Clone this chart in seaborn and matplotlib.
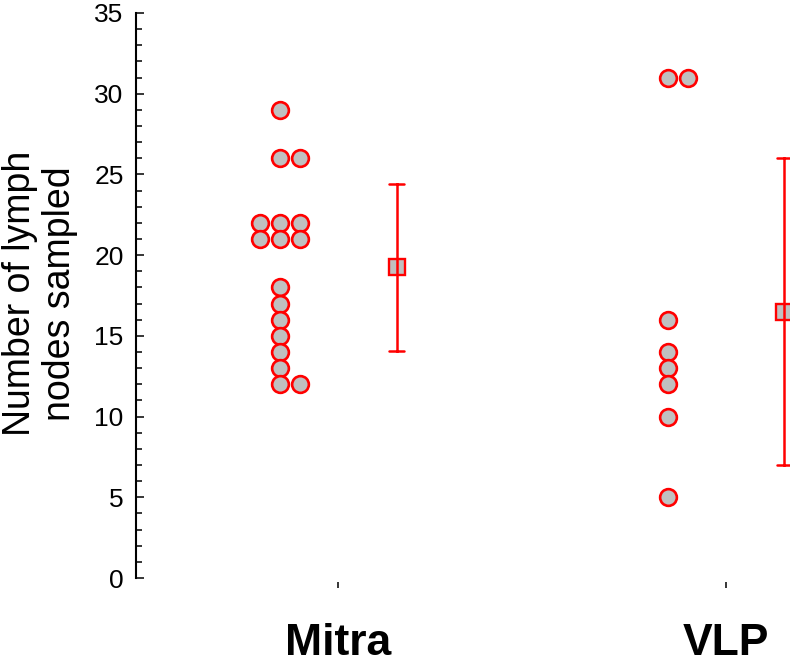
import numpy as np
import pandas as pd
import matplotlib
matplotlib.use("Agg")
import matplotlib.pyplot as plt
import seaborn as sns
from matplotlib.ticker import MultipleLocator

# ---- data ----
groups = ["Mitra", "VLP"]
mitra_values = [29, 26, 26, 22, 22, 22, 21, 21, 21, 18, 17, 16, 15, 14, 13, 12, 12]
vlp_values = [31, 31, 16, 14, 13, 12, 10, 5]
y_ticks = [0, 5, 10, 15, 20, 25, 30, 35]
y_label = "Number of lymph\nnodes sampled"

sns.set_theme(style="ticks")
plt.rcParams["font.family"] = ["Liberation Sans", "DejaVu Sans"]
plt.rcParams["text.color"] = "black"

# Build long table; stack duplicate values side by side (center, right, left)
rows = []
for gi, (g, vals) in enumerate(zip(groups, [mitra_values, vlp_values])):
    seen = {}
    for v in vals:
        r = seen.get(v, 0)
        seen[v] = r + 1
        col = [0, 1, -1, 2, -2][r]
        rows.append(dict(group=g, value=v, gi=gi, col=col))
df = pd.DataFrame(rows)

POINT_OFFSET = -0.15
MEAN_OFFSET = 0.15
COL_STEP = 0.051
df["xpos"] = df["gi"] + POINT_OFFSET + df["col"] * COL_STEP
df["mpos"] = df["gi"] + MEAN_OFFSET

RED = "#FF0000"
GRAY = "#C0C0C0"

fig = plt.figure(figsize=(7.9, 6.63), dpi=100)
ax = fig.add_axes([136 / 790, 85 / 663, 784 / 790, 565 / 663])

sns.scatterplot(data=df, x="xpos", y="value", ax=ax, s=145, color=GRAY,
                edgecolor=RED, linewidth=1.9, zorder=3, clip_on=False,
                legend=False)

sns.pointplot(data=df, x="mpos", y="value", native_scale=True, errorbar="sd",
              ax=ax, color=RED, markers="s", linestyle="none", capsize=0.04,
              err_kws={"linewidth": 1.8}, markersize=11.5,
              markerfacecolor=GRAY, markeredgecolor=RED, markeredgewidth=1.7)

ax.set_xlim(-0.522, 1.5)
ax.set_ylim(0, 35)
ax.set_xticks([0, 1])
ax.set_xticklabels(groups)
ax.set_yticks(y_ticks)
ax.set_yticklabels([str(t) for t in y_ticks])
ax.yaxis.set_minor_locator(MultipleLocator(1))
ax.set_xlabel("")
ax.set_ylabel("")

for s in ["top", "right", "bottom"]:
    ax.spines[s].set_visible(False)
ax.spines["bottom"].set_position(("outward", 3))
ax.spines["left"].set_linewidth(1.5)
ax.spines["left"].set_color("black")

ax.tick_params(axis="y", which="major", direction="in", length=5.8, width=1.1,
               pad=9, colors="black", labelsize=19)
ax.tick_params(axis="y", which="minor", direction="in", length=4, width=1.1,
               colors="black")
ax.tick_params(axis="x", which="major", direction="out", length=4.5, width=1.1,
               pad=25, colors="black", labelsize=32)
for lbl in ax.get_xticklabels():
    lbl.set_fontweight("bold")

fig.text(40 / 790, 1 - 293.5 / 663, y_label, rotation=90, ha="center",
         va="center", fontsize=27, multialignment="center", linespacing=1.12,
         color="black")

fig.savefig("out.png", dpi=100)
